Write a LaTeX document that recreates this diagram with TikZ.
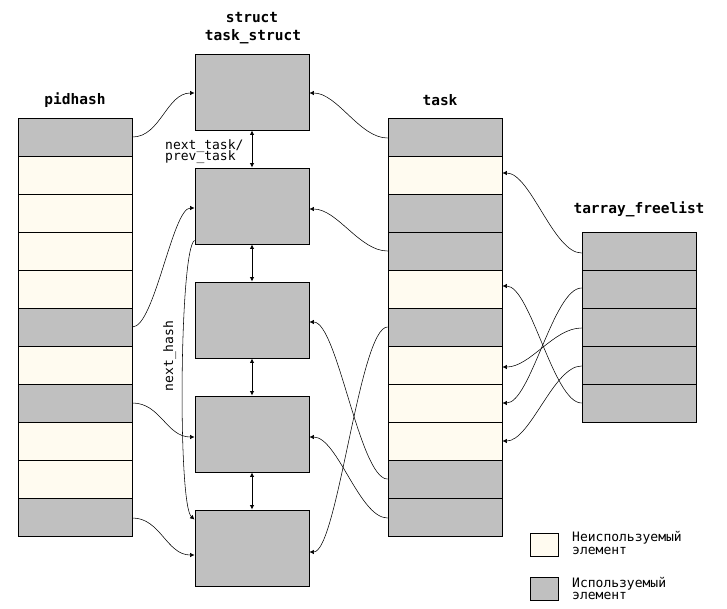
\documentclass[tikz,border=0pt]{standalone}
\usepackage{fontspec}
\setmonofont{DejaVu Sans Mono}
\usetikzlibrary{arrows.meta}
\definecolor{usedgray}{HTML}{C0C0C0}
\definecolor{freecream}{HTML}{FFFBF0}
\tikzset{
  cell/.style={draw=black, line width=0.9pt, rectangle, minimum width=114pt, minimum height=38pt, inner sep=0pt},
  used/.style={cell, fill=usedgray},
  free/.style={cell, fill=freecream},
  tsbox/.style={draw=black, line width=0.9pt, fill=usedgray, rectangle, minimum width=114pt, minimum height=76pt, inner sep=0pt},
  legbox/.style={draw=black, line width=0.9pt, rectangle, minimum width=28pt, minimum height=23pt, inner sep=0pt},
  title/.style={font=\ttfamily\bfseries\fontsize{14.5}{16}\selectfont, inner sep=0pt, anchor=base},
  lbl/.style={font=\ttfamily\fontsize{13}{12.5}\selectfont, inner sep=0pt},
  link/.style={line width=0.55pt, -{Latex[length=4.5pt,width=4.5pt]}},
  dlink/.style={line width=0.8pt, {Latex[length=4.5pt,width=4.5pt]}-{Latex[length=4.5pt,width=4.5pt]}}
}
\begin{document}
\begin{tikzpicture}[x=1pt,y=-1pt]
\useasboundingbox (0,0) rectangle (727,608);
% titles
\node[title] (tstruct) at (252,22) {struct};
\node[title] (ttask) at (253,40.5) {task\_struct};
\node[title] (tpid) at (75,104) {pidhash};
\node[title] (tt) at (440,105) {task};
\node[title] (tfree) at (639,213) {tarray\_freelist};
% pidhash
\node[used] (p1) at (75,137) {};
\node[free] (p2) at (75,175) {};
\node[free] (p3) at (75,213) {};
\node[free] (p4) at (75,251) {};
\node[free] (p5) at (75,289) {};
\node[used] (p6) at (75,327) {};
\node[free] (p7) at (75,365) {};
\node[used] (p8) at (75,403) {};
\node[free] (p9) at (75,441) {};
\node[free] (p10) at (75,479) {};
\node[used] (p11) at (75,517) {};
% task
\node[used] (t1) at (445,137) {};
\node[free] (t2) at (445,175) {};
\node[used] (t3) at (445,213) {};
\node[used] (t4) at (445,251) {};
\node[free] (t5) at (445,289) {};
\node[used] (t6) at (445,327) {};
\node[free] (t7) at (445,365) {};
\node[free] (t8) at (445,403) {};
\node[free] (t9) at (445,441) {};
\node[used] (t10) at (445,479) {};
\node[used] (t11) at (445,517) {};
% freelist
\node[used] (f1) at (639,251) {};
\node[used] (f2) at (639,289) {};
\node[used] (f3) at (639,327) {};
\node[used] (f4) at (639,365) {};
\node[used] (f5) at (639,403) {};
% task_struct boxes
\node[tsbox] (b1) at (252,92) {};
\node[tsbox] (b2) at (252,206) {};
\node[tsbox] (b3) at (252,320) {};
\node[tsbox] (b4) at (252,434) {};
\node[tsbox] (b5) at (252,548) {};
% labels
\node[lbl, anchor=base west] (nt1) at (165,149) {next\_task/};
\node[lbl, anchor=base west] (nt2) at (165,160.5) {prev\_task};
\node[lbl, anchor=base, rotate=90] (nh) at (173,356) {next\_hash};
% next/prev links
\draw[dlink] (b1.south) -- (b2.north);
\draw[dlink] (b2.south) -- (b3.north);
\draw[dlink] (b3.south) -- (b4.north);
\draw[dlink] (b4.south) -- (b5.north);
% pidhash -> task_struct
\draw[link] (p1.east) .. controls +(28,0) and +(-28,0) .. ([yshift=-1pt]b1.west);
\draw[link] (p6.east) .. controls +(22,0) and +(-22,0) .. ([yshift=-2pt]b2.west);
\draw[link] (p8.east) .. controls +(28,0) and +(-28,0) .. ([yshift=-3pt]b4.west);
\draw[link] ([yshift=-1pt]p11.east) .. controls +(28,0) and +(-28,0) .. ([yshift=-7pt]b5.west);
% next_hash
\draw[link] ([yshift=4pt]b2.south west) .. controls +(-15,8) and +(-17,-15) .. ([yshift=-10pt]b5.north west);
% task -> task_struct
\draw[link] ([yshift=-1pt]t1.west) .. controls +(-28,0) and +(28,0) .. ([yshift=-1pt]b1.east);
\draw[link] (t4.west) .. controls +(-28,0) and +(28,0) .. ([yshift=-3pt]b2.east);
\draw[link] (t10.west) .. controls +(-28,0) and +(28,0) .. ([yshift=-2pt]b3.east);
\draw[link] ([yshift=-1pt]t11.west) .. controls +(-28,0) and +(28,0) .. ([yshift=-3pt]b4.east);
\draw[link] (t6.west) .. controls +(-28,0) and +(28,0) .. ([yshift=-4pt]b5.east);
% freelist -> task
\draw[link] ([yshift=-2pt]f1.west) .. controls +(-28,0) and +(28,0) .. ([yshift=2pt]t2.east);
\draw[link] ([yshift=1pt]f2.west) .. controls +(-28,0) and +(28,0) .. (t8.east);
\draw[link] ([yshift=-1pt]f3.west) .. controls +(-28,0) and +(28,0) .. ([yshift=-2pt]t7.east);
\draw[link] ([yshift=-1pt]f4.west) .. controls +(-28,0) and +(28,0) .. (t9.east);
\draw[link] (f5.west) .. controls +(-28,0) and +(28,0) .. ([yshift=3pt]t5.east);
% legend
\node[legbox, fill=freecream] (lg1) at (544,544.5) {};
\node[legbox, fill=usedgray] (lg2) at (544,589) {};
\node[lbl, anchor=base west] (lt1a) at (572,541.7) {Неиспользуемый};
\node[lbl, anchor=base west] (lt1b) at (572,554) {элемент};
\node[lbl, anchor=base west] (lt2a) at (572,587.7) {Используемый};
\node[lbl, anchor=base west] (lt2b) at (572,599.5) {элемент};
\end{tikzpicture}
\end{document}
